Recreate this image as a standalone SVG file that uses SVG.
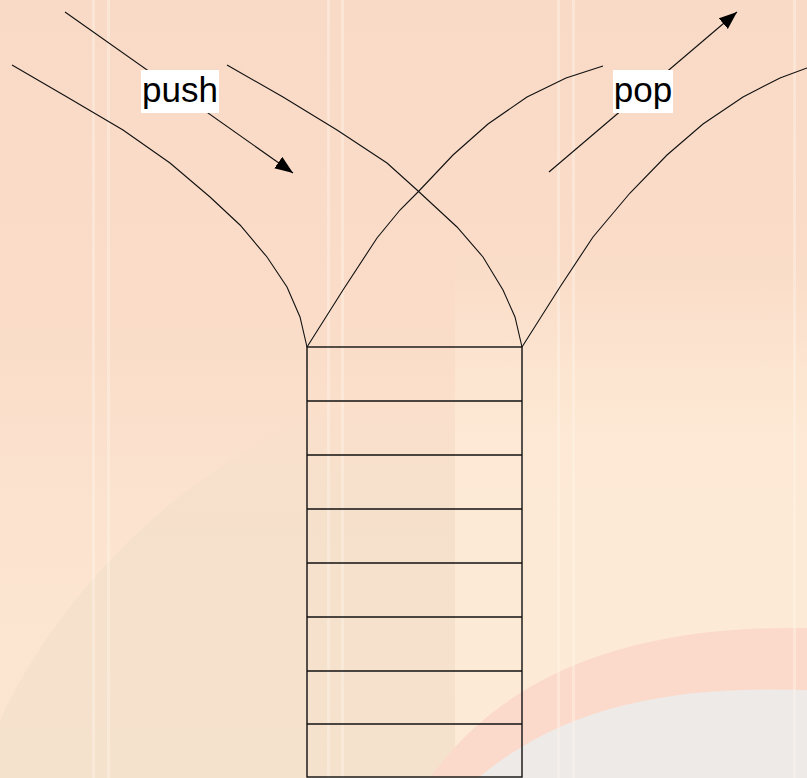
<svg xmlns="http://www.w3.org/2000/svg" width="807" height="778" viewBox="0 0 807 778">
  <defs>
    <linearGradient id="bg" x1="0" y1="0" x2="0" y2="1">
      <stop offset="0" stop-color="#F9DAC6"/>
      <stop offset="0.4" stop-color="#FADCC8"/>
      <stop offset="0.65" stop-color="#FBE3CF"/>
      <stop offset="1" stop-color="#FCE6D2"/>
    </linearGradient>
    <linearGradient id="cream" x1="0" y1="0" x2="0" y2="1">
      <stop offset="0" stop-color="#FDEAD6" stop-opacity="0"/>
      <stop offset="0.35" stop-color="#FDEAD6" stop-opacity="0.85"/>
      <stop offset="1" stop-color="#FDEBD7" stop-opacity="1"/>
    </linearGradient>
    <linearGradient id="beige" x1="0" y1="0" x2="0" y2="1">
      <stop offset="0" stop-color="#F1DEC8" stop-opacity="0"/>
      <stop offset="0.3" stop-color="#F1DEC8" stop-opacity="0.55"/>
      <stop offset="1" stop-color="#F2E0CB" stop-opacity="0.7"/>
    </linearGradient>
    <marker id="arrow" markerUnits="userSpaceOnUse" markerWidth="20" markerHeight="16" refX="18" refY="7" orient="auto">
      <path d="M0,0 L18,7 L0,14 z" fill="#000"/>
    </marker>
    <style>
      .ln { fill: none; stroke: #111; stroke-width: 1.1; }
      .stk { fill: none; stroke: #111; stroke-width: 1.4; }
      .lbl { font-family: "Liberation Sans", Arial, sans-serif; font-size: 35px; fill: #000; text-anchor: middle; }
      .stripe { fill: #FFF6EC; opacity: 0.4; }
    </style>
  </defs>

  <g id="background">
    <rect x="0" y="0" width="807" height="778" fill="url(#bg)"/>
    <rect x="455" y="250" width="352" height="528" fill="url(#cream)"/>
    <path d="M0 720 C 60 590, 190 460, 330 412 L 455 400 L 455 778 L 0 778 Z" fill="url(#beige)"/>
    <path d="M430 778 C 500 680, 620 625, 807 628 L 807 778 Z" fill="#FCDACB"/>
    <path d="M478 778 C 560 710, 660 685, 807 690 L 807 778 Z" fill="#EEEAE7"/>
    <rect class="stripe" x="92" y="0" width="3" height="778"/>
    <rect class="stripe" x="107" y="0" width="3" height="778"/>
    <rect class="stripe" x="327" y="0" width="3" height="778"/>
    <rect class="stripe" x="341" y="0" width="3" height="778"/>
    <rect class="stripe" x="557" y="0" width="3" height="778"/>
    <rect class="stripe" x="572" y="0" width="3" height="778"/>
    <rect class="stripe" x="793" y="0" width="3" height="778"/>
  </g>

  <g id="funnel">
    <polyline class="ln" points="12,65 67,97 123,130 170,163 210,197 240,225 267,257 287,287 300,317 307,347"/>
    <polyline class="ln" points="227,65 283,97 337,130 387,163 417,190 457,227 483,257 503,290 515,317 522,347"/>
    <polyline class="ln" points="307,347 343,290 377,238 400,210 418,192 453,155 488,124 527,97 566,78 603,66"/>
    <polyline class="ln" points="522,347 560,287 593,237 630,193 667,155 703,124 743,97 780,78 807,68"/>
  </g>

  <g id="stack">
    <rect class="stk" x="307" y="347" width="215" height="430"/>
    <line class="stk" x1="307" y1="401" x2="522" y2="401"/>
    <line class="stk" x1="307" y1="455" x2="522" y2="455"/>
    <line class="stk" x1="307" y1="509" x2="522" y2="509"/>
    <line class="stk" x1="307" y1="563" x2="522" y2="563"/>
    <line class="stk" x1="307" y1="617" x2="522" y2="617"/>
    <line class="stk" x1="307" y1="671" x2="522" y2="671"/>
    <line class="stk" x1="307" y1="724" x2="522" y2="724"/>
  </g>

  <g id="connectors">
    <line class="ln" x1="65" y1="12" x2="293" y2="173" marker-end="url(#arrow)"/>
    <line class="ln" x1="549" y1="172" x2="737" y2="12" marker-end="url(#arrow)"/>
  </g>

  <g id="push-label">
    <rect x="141" y="70" width="78" height="43" fill="#FFFFFF"/>
    <text class="lbl" x="180" y="102">push</text>
  </g>
  <g id="pop-label">
    <rect x="613" y="70" width="60" height="43" fill="#FFFFFF"/>
    <text class="lbl" x="643" y="102">pop</text>
  </g>
</svg>
